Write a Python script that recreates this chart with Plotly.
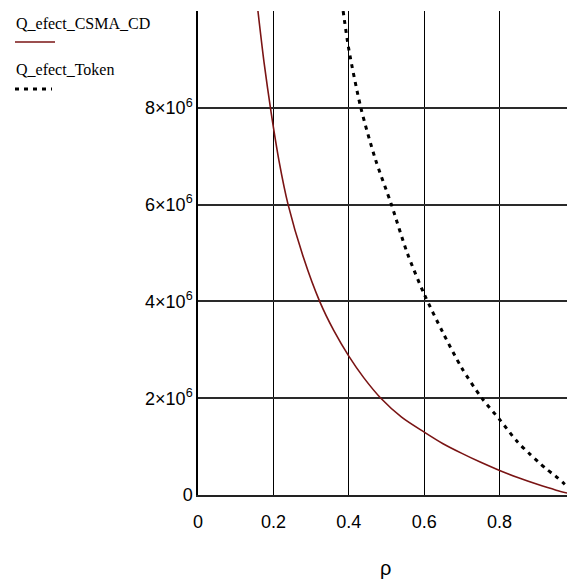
import plotly.graph_objects as go

# ---- data ----
rho_csma = [0.159, 0.175, 0.194, 0.215, 0.239, 0.28, 0.3227, 0.36, 0.4, 0.44, 0.485,
            0.54, 0.6, 0.65, 0.7, 0.75, 0.8, 0.85, 0.9, 0.95, 0.99]
q_csma = [10.0e6, 8.95e6, 7.9e6, 6.9e6, 6.0e6, 4.9e6, 4.0e6, 3.4e6, 2.87e6, 2.42e6, 2.0e6,
          1.61e6, 1.30e6, 1.06e6, 0.86e6, 0.675e6, 0.507e6, 0.355e6, 0.22e6, 0.10e6, 0.02e6]

rho_token = [0.385, 0.4, 0.432, 0.47, 0.513, 0.555, 0.6, 0.65, 0.7, 0.753, 0.8, 0.846,
             0.881, 0.903, 0.925, 0.947, 0.969, 0.995]
q_token = [10.0e6, 9.21e6, 8.0e6, 6.95e6, 6.0e6, 5.0e6, 4.15e6, 3.35e6, 2.62e6, 2.0e6, 1.56e6,
           1.11e6, 0.84e6, 0.68e6, 0.53e6, 0.40e6, 0.25e6, 0.06e6]

x_ticks = [0, 0.2, 0.4, 0.6, 0.8]
x_tick_labels = ["0", "0.2", "0.4", "0.6", "0.8"]
y_ticks = [0, 2e6, 4e6, 6e6, 8e6, 1e7]
y_tick_labels = ["0", "2×10<sup>6</sup>", "4×10<sup>6</sup>", "6×10<sup>6</sup>",
                 "8×10<sup>6</sup>", ""]

name_csma = "Q_efect_CSMA_CD"
name_token = "Q_efect_Token"
x_title = "ρ"

# ---- layout geometry (figure pixels; page has an 8px body margin) ----
OFF = 8
W, H = 567, 571
L, R, T, B = 190, 0, 3, 84
PW, PH = W - L - R, H - T - B


def px(xp):  # page pixel -> paper x
    return (xp - OFF - L) / PW


def py(yp):  # page pixel -> paper y
    return (H - B - (yp - OFF)) / PH


CSMA_COLOR = "#7a1414"

fig = go.Figure()
fig.add_trace(go.Scatter(x=rho_csma, y=q_csma, mode="lines", name=name_csma,
                         line=dict(color=CSMA_COLOR, width=1.6, shape="spline", smoothing=0.8),
                         showlegend=False))
fig.add_trace(go.Scatter(x=rho_token, y=q_token, mode="lines", name=name_token,
                         line=dict(color="black", width=3, dash="4px,5px", shape="spline", smoothing=0.8),
                         showlegend=False))

tick_font = dict(family="Liberation Sans Narrow, Arial Narrow, sans-serif", size=18, color="black")
legend_font = dict(family="Liberation Serif, Times New Roman, serif", size=16, color="black")

fig.update_layout(
    width=W, height=H,
    margin=dict(l=L, r=R, t=T, b=B, pad=0),
    paper_bgcolor="white", plot_bgcolor="white",
    xaxis=dict(range=[0, 1], tickvals=x_ticks, ticktext=x_tick_labels,
               showgrid=True, gridcolor="black", gridwidth=1,
               zeroline=False, showline=True, linecolor="#222", linewidth=2,
               ticks="", tickfont=tick_font, ticklabelstandoff=9),
    yaxis=dict(range=[0, 1e7], tickvals=y_ticks, ticktext=y_tick_labels,
               showgrid=True, gridcolor="#2a2a2a", gridwidth=2,
               zeroline=False, showline=True, linecolor="black", linewidth=1.5,
               ticks="", tickfont=tick_font),
    showlegend=False,
)

fig.add_annotation(x=px(14), y=py(23), xref="paper", yref="paper", text=name_csma,
                   showarrow=False, xanchor="left", yanchor="middle", font=legend_font)
fig.add_annotation(x=px(14), y=py(70), xref="paper", yref="paper", text=name_token,
                   showarrow=False, xanchor="left", yanchor="middle", font=legend_font)
fig.add_annotation(x=px(385), y=py(568), xref="paper", yref="paper", text=x_title,
                   showarrow=False, xanchor="center", yanchor="middle",
                   font=dict(family="Liberation Sans Narrow, Arial Narrow, sans-serif", size=20, color="black"))

fig.add_shape(type="line", xref="paper", yref="paper", x0=px(15), x1=px(55), y0=py(42), y1=py(42),
              line=dict(color=CSMA_COLOR, width=1.6))
fig.add_shape(type="line", xref="paper", yref="paper", x0=px(15), x1=px(52), y0=py(89), y1=py(89),
              line=dict(color="black", width=3, dash="4px,5px"))

fig.write_html("out.html")
